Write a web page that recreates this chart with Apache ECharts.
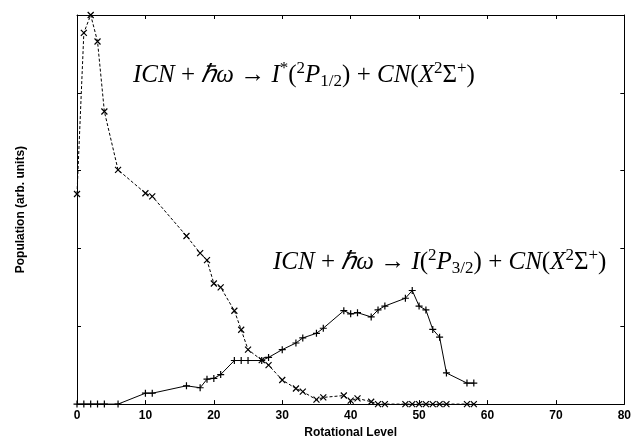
<!DOCTYPE html>
<html>
<head>
<meta charset="utf-8">
<script src="https://cdn.jsdelivr.net/npm/echarts@6/dist/echarts.min.js"></script>
<style>
  html, body { margin: 0; padding: 0; background: #fff; }
  #chart { width: 634px; height: 444px; }
</style>
</head>
<body>
<div id="chart"></div>
<script>
// rotational levels (same for both channels)
var levels = [0, 1, 2, 3, 4, 6, 10, 11, 16, 18, 19, 20, 21, 23, 24, 25, 27, 28, 30, 32, 33, 35, 36, 39, 40, 41, 43, 44, 45, 48, 49, 50, 51, 52, 53, 54, 57, 58];
// I*(2P1/2) channel, dashed with x markers
var popExcited = [2.70, 4.77, 5.0, 4.66, 3.76, 3.01, 2.71, 2.67, 2.16, 1.94, 1.85, 1.55, 1.50, 1.20, 0.955, 0.70, 0.565, 0.50, 0.31, 0.20, 0.16, 0.057, 0.086, 0.11, 0.044, 0.074, 0.03, 0, 0, 0, 0, 0, 0, 0, 0, 0, 0, 0];
// I(2P3/2) channel, solid with + markers
var popGround = [0, 0, 0, 0, 0, 0, 0.14, 0.14, 0.235, 0.21, 0.32, 0.33, 0.38, 0.56, 0.56, 0.56, 0.56, 0.60, 0.70, 0.785, 0.85, 0.91, 0.975, 1.20, 1.16, 1.175, 1.12, 1.21, 1.26, 1.36, 1.46, 1.26, 1.21, 0.96, 0.86, 0.40, 0.27, 0.27];
var xTicks = [0, 10, 20, 30, 40, 50, 60, 70, 80];

function pairs(xs, ys) {
  return xs.map(function (x, i) { return [x, ys[i]]; });
}

var crossSym = 'path://M0,0L10,10M10,0L0,10';
var plusSym = 'path://M5,0L5,10M0,5L10,5';

var axisFont = { fontFamily: 'Liberation Sans', fontWeight: 'bold', fontSize: 12, color: '#000' };

var serif = 'Liberation Serif';
var rich = {
  it: { fontFamily: serif, fontStyle: 'italic', fontSize: 25, lineHeight: 30, color: '#000' },
  rm: { fontFamily: serif, fontSize: 25, lineHeight: 30, color: '#000' },
  sup: { fontFamily: serif, fontSize: 17, lineHeight: 17, verticalAlign: 'top', color: '#000' },
  sub: { fontFamily: serif, fontSize: 17, lineHeight: 16, verticalAlign: 'bottom', color: '#000' }
};

function boxAxis(extra) {
  return Object.assign({
    axisLine: { show: true, onZero: false, lineStyle: { color: '#000', width: 1 } },
    axisTick: { show: true, inside: true, length: 4, lineStyle: { color: '#000' } },
    axisLabel: { show: false },
    splitLine: { show: false }
  }, extra);
}

var chart = echarts.init(document.getElementById('chart'));
chart.setOption({
  animation: false,
  backgroundColor: '#fff',
  grid: { left: 77, right: 7, top: 15, bottom: 36 },
  xAxis: [
    boxAxis({
      type: 'value', min: 0, max: 80, interval: 10, position: 'bottom',
      name: 'Rotational Level', nameLocation: 'middle', nameGap: 22,
      nameTextStyle: axisFont,
      axisLabel: Object.assign({ show: true, margin: 6, formatter: function (v) { return xTicks.indexOf(v) >= 0 ? v : ''; } }, axisFont)
    }),
    boxAxis({ type: 'value', min: 0, max: 80, interval: 10, position: 'top' })
  ],
  yAxis: [
    boxAxis({
      type: 'value', min: 0, max: 5, interval: 1, position: 'left',
      name: 'Population (arb. units)', nameLocation: 'middle', nameGap: 50,
      nameTextStyle: axisFont
    }),
    boxAxis({ type: 'value', min: 0, max: 5, interval: 1, position: 'right' })
  ],
  series: [{
    type: 'line',
    data: pairs(levels, popExcited),
    symbol: crossSym, symbolSize: 6, showAllSymbol: true,
    lineStyle: { color: '#000', width: 1, type: [3, 2] },
    itemStyle: { color: 'transparent', borderColor: '#000', borderWidth: 1.2 },
    z: 3
  }, {
    type: 'line',
    data: pairs(levels, popGround),
    symbol: plusSym, symbolSize: 7, showAllSymbol: true,
    lineStyle: { color: '#000', width: 1 },
    itemStyle: { color: 'transparent', borderColor: '#000', borderWidth: 1.2 },
    z: 3
  }],
  graphic: [{
    type: 'text', left: 133, top: 60,
    style: {
      text: '{it|ICN}{rm| + }{it|ℏω}{rm| → }{it|I}{sup|*}{rm|(}{sup|2}{it|P}{sub|1/2}{rm|) + }{it|CN}{rm|(}{it|X}{sup|2}{rm|Σ}{sup|+}{rm|)}',
      rich: rich
    }
  }, {
    type: 'text', left: 273, top: 247,
    style: {
      text: '{it|ICN}{rm| + }{it|ℏω}{rm| → }{it|I}{rm|(}{sup|2}{it|P}{sub|3/2}{rm|) + }{it|CN}{rm|(}{it|X}{sup|2}{rm|Σ}{sup|+}{rm|)}',
      rich: rich
    }
  }]
});
</script>
</body>
</html>
